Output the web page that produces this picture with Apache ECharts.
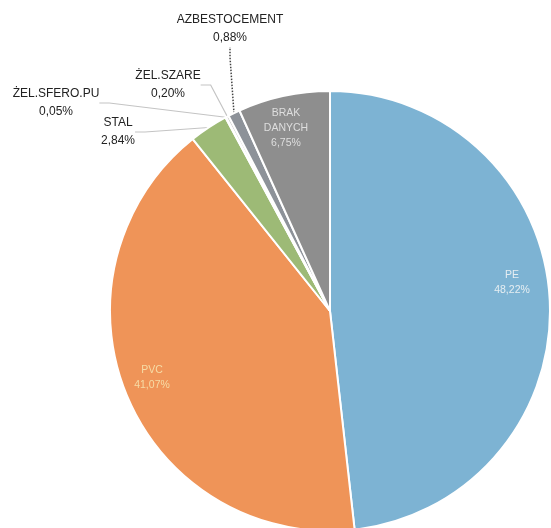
<!DOCTYPE html>
<html><head><meta charset="utf-8">
<script src="https://cdn.jsdelivr.net/npm/echarts@6/dist/echarts.min.js"></script>
<style>html,body{margin:0;padding:0;background:#fff}#c{width:551px;height:528px}</style>
</head><body><div id="c"></div>
<script>
const categories = ['PE','PVC','STAL','ŻEL.SFERO.PU','ŻEL.SZARE','AZBESTOCEMENT','BRAK\nDANYCH'];
const values = [48.22, 41.07, 2.84, 0.05, 0.20, 0.88, 6.75];
const colors = ['#7db3d3','#ef9458','#9dba76','#d6d6d6','#c4c4c4','#8d9299','#8e8e8e'];

// label anchor positions (layout, not data)
const labelPos = [[512,283],[152,378],[118,132],[56,103],[168,85],[230,29],[286,128]];
const inside = [true,true,false,false,false,false,true];
const insideColors = ['#e6eef2','#f6dca6',null,null,null,null,'#dedede'];

const data = categories.map((n,i)=>({
  name:n, value:values[i],
  itemStyle:{color:colors[i]},
  label: inside[i] ? {position:'inside', color:insideColors[i], fontSize:10.5, fontWeight:400, lineHeight:15}
                   : {position:'outside', color:'#222', fontSize:12, fontWeight:400, lineHeight:18},
  labelLine: inside[i] ? {show:false} : {show:true, lineStyle: i===5 ? {color:'#444', type:'dotted', width:1.5} : {color:'#c4c4c4', width:1.2}}
}));

const chart = echarts.init(document.getElementById('c'), null, {renderer:'canvas'});
chart.setOption({
  animation:false,
  series:[{
    type:'pie',
    center:[330,311],
    radius:[0,220],
    startAngle:90,
    clockwise:true,
    avoidLabelOverlap:false,
    data:data,
    itemStyle:{borderColor:'#fff', borderWidth:2},
    label:{show:true, fontFamily:'Liberation Sans',
      formatter:p=>p.name+'\n'+p.value.toFixed(2).replace('.',',')+'%'},
    labelLine:{show:true, length:10, length2:10},
    labelLayout: function(params){
      const p = labelPos[params.dataIndex];
      return {x:p[0], y:p[1], align:'center', verticalAlign:'middle'};
    }
  }]
});
</script></body></html>
